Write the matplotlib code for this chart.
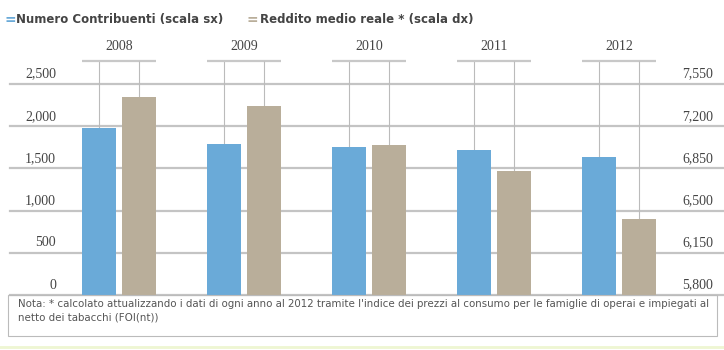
import numpy as np
import matplotlib
matplotlib.use('Agg')
import matplotlib.pyplot as plt
from matplotlib.patches import Rectangle
from matplotlib.lines import Line2D

# dati
anni = ['2008', '2009', '2010', '2011', '2012']
contribuenti = [1975, 1785, 1750, 1715, 1635]      # scala sx
reddito = [7445, 7365, 7040, 6830, 6430]            # scala dx
tick_sx = [0, 500, 1000, 1500, 2000, 2500]
tick_dx = [5800, 6150, 6500, 6850, 7200, 7550]
tick_sx_lab = ['0', '500', '1,000', '1,500', '2,000', '2,500']
tick_dx_lab = ['5,800', '6,150', '6,500', '6,850', '7,200', '7,550']
legenda = ['Numero Contribuenti (scala sx)', 'Reddito medio reale * (scala dx)']
nota = ("Nota: * calcolato attualizzando i dati di ogni anno al 2012 tramite l'indice dei prezzi al consumo "
        "per le famiglie di operai e impiegati al\nnetto dei tabacchi (FOI(nt))")

BLU = '#6aaad8'
BEIGE = '#b9ae9a'
GRIGIO = '#c4c4c4'
TESTO = '#444444'
SERIF = ['Liberation Serif', 'DejaVu Serif']

plt.rcParams['font.family'] = ['Liberation Sans Narrow', 'DejaVu Sans']

W, H = 724, 350
fig = plt.figure(figsize=(W / 100, H / 100), dpi=100)
fig.patch.set_facecolor('white')

# area del grafico in pixel: x 10..724, y 84..295
ax = fig.add_axes([10 / W, (H - 295) / H, 714 / W, 211 / H])
ax2 = ax.twinx()
x = np.arange(len(anni))
ax.set_xlim((10 - 119) / 125, (724 - 119) / 125)
ax.set_ylim(tick_sx[0], tick_sx[-1])
ax2.set_ylim(tick_dx[0], tick_dx[-1])

for a in (ax, ax2):
    for s in a.spines.values():
        s.set_visible(False)
    a.set_xticks([])
    a.set_yticks([])
    a.patch.set_alpha(0)

for t in tick_sx:
    ax.axhline(t, color=GRIGIO, lw=1.6, zorder=0, clip_on=False)

w = 0.272
off = 0.16
ax.bar(x - off, contribuenti, width=w, color=BLU, zorder=2)
ax2.bar(x + off, [r - tick_dx[0] for r in reddito], width=w, bottom=tick_dx[0],
        color=BEIGE, zorder=2)

# linee verticali e parentesi sopra le barre
sopra = 1.109
top_sx = tick_sx[-1] + (tick_sx[-1] - tick_sx[0]) * (sopra - 1)
top_dx = tick_dx[-1] + (tick_dx[-1] - tick_dx[0]) * (sopra - 1)
ax.vlines(x - off, contribuenti, top_sx, color='#bbbbbb', lw=0.8, clip_on=False, zorder=1)
ax2.vlines(x + off, reddito, top_dx, color='#bbbbbb', lw=0.8, clip_on=False, zorder=1)
for i, anno in enumerate(anni):
    ax.plot([i - 0.296, i + 0.296], [top_sx, top_sx], color='#c8c8c8', lw=1.6,
            clip_on=False, solid_capstyle='butt')
    ax.text(i, top_sx + 90, anno, ha='center', va='bottom', fontsize=10,
            color=TESTO, family=SERIF, clip_on=False)

# etichette assi
for t, lab in zip(tick_sx, tick_sx_lab):
    ax.text(46 / 714, t + 40, lab, transform=ax.get_yaxis_transform(),
            ha='right', va='bottom', fontsize=10, color=TESTO, family=SERIF)
for t, lab in zip(tick_dx, tick_dx_lab):
    ax2.text(672 / 714, t + 28, lab, transform=ax2.get_yaxis_transform(),
             ha='left', va='bottom', fontsize=10, color=TESTO, family=SERIF)

# legenda
fig.text(5 / W, 1 - 20 / H, '=', color=BLU, fontsize=10, fontweight='bold', va='center')
fig.text(16 / W, 1 - 20 / H, legenda[0], color=TESTO, fontsize=8.5, fontweight='bold', va='center')
fig.text(247 / W, 1 - 20 / H, '=', color=BEIGE, fontsize=10, fontweight='bold', va='center')
fig.text(260 / W, 1 - 20 / H, legenda[1], color=TESTO, fontsize=8.5, fontweight='bold', va='center')

# riquadro nota
fig.add_artist(Rectangle((8 / W, (H - 336) / H), 709 / W, 41 / H, transform=fig.transFigure,
                         facecolor='none', edgecolor='#bbbbbb', lw=0.8))
fig.text(18 / W, 1 - 299 / H, nota, fontsize=7.4, color='#555555', va='top', linespacing=1.45)

# linea finale
fig.add_artist(Line2D([0, 1], [1 - 347 / H, 1 - 347 / H], color='#eef6d2', lw=2,
                      transform=fig.transFigure))

fig.savefig('out.png', dpi=100)
